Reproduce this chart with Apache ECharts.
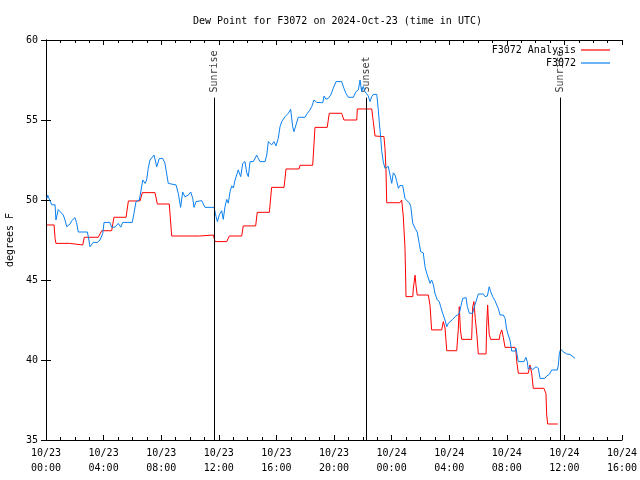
<!DOCTYPE html>
<html>
<head>
<meta charset="utf-8">
<script src="https://cdn.jsdelivr.net/npm/echarts@6/dist/echarts.min.js"></script>
<style>html,body{margin:0;padding:0;background:#fff}#c{width:640px;height:480px}</style>
</head>
<body>
<div id="c"></div>
<script>
// hours since 2024-10-23 00:00 UTC
const blueHours = [0.07,0.12,0.21,0.40,0.63,0.69,0.85,1.20,1.32,1.44,1.67,1.78,2.01,2.12,2.24,2.87,2.94,3.06,3.28,3.56,3.75,3.94,4.03,4.44,4.56,4.79,5.02,5.19,5.33,5.99,6.11,6.25,6.48,6.58,6.72,6.88,6.99,7.10,7.22,7.50,7.69,7.87,8.10,8.26,8.49,8.61,9.03,9.19,9.35,9.49,9.65,9.88,10.05,10.19,10.28,10.42,10.53,10.81,11.04,11.67,11.81,11.90,12.03,12.20,12.31,12.43,12.55,12.66,12.78,12.90,13.01,13.13,13.24,13.35,13.52,13.66,13.82,13.94,14.05,14.17,14.40,14.63,14.74,14.86,15.21,15.33,15.44,15.56,15.67,15.83,15.97,16.13,16.25,16.37,16.60,16.83,16.99,17.13,17.22,17.36,17.52,17.99,18.15,18.33,18.45,18.61,18.80,19.22,19.31,19.44,19.60,19.77,19.95,20.14,20.53,20.69,20.83,20.99,21.34,21.53,21.69,21.81,21.92,22.03,22.15,22.27,22.38,22.50,22.62,22.73,22.97,23.08,23.15,23.24,23.31,23.42,23.54,23.66,23.77,23.89,24.01,24.12,24.24,24.35,24.47,24.58,24.77,24.93,25.05,25.23,25.33,25.47,25.63,25.78,25.92,26.02,26.20,26.32,26.44,26.55,26.67,26.78,26.90,27.01,27.17,27.31,27.41,27.55,27.64,27.71,27.83,27.94,28.06,28.24,28.40,28.56,28.70,28.80,28.94,29.17,29.26,29.40,29.63,29.72,29.86,30.02,30.37,30.49,30.65,30.78,30.88,31.02,31.18,31.30,31.41,31.53,31.76,31.88,31.99,32.10,32.22,32.34,32.57,32.64,32.73,32.80,33.19,33.33,33.42,33.49,33.61,33.73,33.80,34.03,34.19,34.31,34.65,34.77,34.95,35.12,35.51,35.58,35.65,35.74,35.92,36.16,36.39,36.74];
const blueValues = [50.1,50.3,50.1,49.7,49.7,48.75,49.4,49.06,48.75,48.33,48.5,48.7,48.9,48.6,48.0,48.0,47.7,47.08,47.35,47.35,47.5,47.9,48.6,48.6,48.3,48.3,48.54,48.3,48.6,48.6,49.17,49.9,50.0,50.5,51.25,51.04,51.25,51.98,52.5,52.81,52.08,52.6,52.6,52.3,51.04,50.94,50.94,50.4,49.54,50.5,50.2,50.3,50.5,50.1,49.54,49.9,49.96,49.96,49.54,49.54,48.96,48.65,49.06,49.33,48.79,49.58,50.04,49.8,50.52,50.88,50.75,51.25,51.56,51.88,51.46,52.29,52.4,51.7,51.46,52.4,52.4,52.81,52.6,52.4,52.4,52.81,53.65,53.75,53.44,53.65,53.38,53.85,54.58,54.9,55.21,55.42,55.67,54.58,54.27,54.69,55.17,55.17,55.42,55.62,55.83,56.25,56.1,56.08,56.5,56.3,56.35,56.56,56.98,57.4,57.4,56.98,56.67,56.42,56.42,56.77,56.88,57.5,56.77,57.1,56.77,56.88,56.5,56.15,56.46,56.6,56.6,55.6,54.8,53.96,53.1,52.4,51.98,51.9,52.1,52.2,51.04,51.7,51.56,51.2,50.73,50.9,50.9,50.1,49.96,49.83,49.6,48.54,48.23,48.0,47.29,46.77,46.7,45.83,45.42,45.31,44.79,45.0,44.7,44.17,43.75,43.65,43.33,42.9,43.0,42.5,42.08,42.3,42.33,42.54,42.7,42.81,42.9,43.33,43.85,43.9,43.33,42.92,42.92,43.25,43.65,44.125,44.125,43.96,44.0,44.58,44.27,43.96,43.71,43.44,43.23,42.81,42.81,42.6,41.92,41.56,41.25,40.56,40.56,40.73,40.25,39.9,39.9,40.17,39.9,39.42,39.58,39.69,39.4,39.58,39.48,38.85,38.85,39.0,39.1,39.375,39.375,39.69,40.42,40.67,40.52,40.375,40.35,40.1];

const redHours = [0.07,0.56,0.63,0.69,1.62,1.72,2.55,2.66,3.63,3.87,4.56,4.72,5.56,5.72,6.53,6.69,7.57,7.73,8.56,8.73,10.65,10.69,11.62,11.74,12.55,12.73,13.59,13.70,14.56,14.67,15.51,15.67,16.53,16.67,17.57,17.64,18.52,18.68,19.53,19.67,20.53,20.69,21.58,21.62,22.62,22.73,22.85,22.92,23.47,23.54,23.61,23.66,24.58,24.70,24.81,24.93,24.98,25.00,25.47,25.51,25.63,25.69,25.78,26.55,26.67,26.78,27.48,27.59,27.64,27.71,27.83,28.52,28.63,28.70,28.78,28.87,29.56,29.63,29.72,29.81,29.93,30.02,30.56,30.60,30.67,30.72,30.78,30.88,31.48,31.53,31.65,31.76,31.88,32.57,32.64,32.69,32.80,33.49,33.61,33.73,33.84,34.58,34.72,34.77,34.84,35.54];
const redValues = [48.44,48.44,47.6,47.29,47.29,47.19,47.19,47.67,47.67,48.08,48.08,48.92,48.92,49.94,49.94,50.46,50.46,49.75,49.75,47.75,47.75,47.81,47.81,47.4,47.4,47.75,47.75,48.38,48.38,49.23,49.23,50.79,50.79,51.94,51.94,52.17,52.17,54.54,54.54,55.42,55.42,55.0,55.0,55.69,55.69,54.9,54.0,53.96,53.96,53.23,51.88,49.83,49.83,50.0,49.0,47.0,45.0,43.96,43.96,44.5,45.3,44.7,44.06,44.06,43.4,41.88,41.88,42.4,42.5,42.0,40.58,40.58,41.88,43.33,41.88,41.29,41.29,43.33,43.65,42.6,41.5,40.38,40.38,42.08,43.44,42.5,41.6,41.29,41.29,41.6,41.88,41.4,40.79,40.79,40.5,39.9,39.17,39.17,39.69,39.17,38.23,38.23,37.9,36.56,36.0,36.0];

const eventHours = [11.69, 22.22, 35.72];
const eventNames = ['Sunrise', 'Sunset', 'Sunrise'];
const eventTop = 56.4;

const xTickLabels = ['10/23\n00:00','10/23\n04:00','10/23\n08:00','10/23\n12:00','10/23\n16:00','10/23\n20:00','10/24\n00:00','10/24\n04:00','10/24\n08:00','10/24\n12:00','10/24\n16:00'];

const FONT = 'DejaVu Sans Mono';
const RED = '#ff0000';
const BLUE = '#0a80f0';
const chart = echarts.init(document.getElementById('c'));
const zip = (a, b) => a.map((v, i) => [v, b[i]]);
const lineIcon = 'path://M0 0H29V1.2H0Z';

chart.setOption({
  animation: false,
  backgroundColor: '#fff',
  title: {
    text: 'Dew Point for F3072 on 2024-Oct-23 (time in UTC)',
    left: 188, top: 11,
    textStyle: { fontFamily: FONT, fontSize: 10, fontWeight: 'normal', color: '#000' }
  },
  legend: {
    data: [
      { name: 'F3072 Analysis', icon: lineIcon, itemStyle: { color: RED } },
      { name: 'F3072', icon: lineIcon, itemStyle: { color: BLUE } }
    ],
    orient: 'vertical', right: 25, top: 40, align: 'right',
    itemWidth: 29, itemHeight: 12, itemGap: 3, symbolKeepAspect: true,
    textStyle: { fontFamily: FONT, fontSize: 10, color: '#000' }
  },
  grid: { left: 46, right: 18, top: 40, bottom: 40, containLabel: false, outerBoundsMode: 'none' },
  xAxis: [{
    type: 'value', min: 0, max: 40, interval: 4,
    axisLine: { lineStyle: { color: '#000', width: 1 } },
    axisTick: { inside: true, length: 5, lineStyle: { color: '#000' } },
    minorTick: { show: true, splitNumber: 4, length: 3, lineStyle: { color: '#000' } },
    splitLine: { show: false },
    axisLabel: {
      margin: 6, color: '#000', fontFamily: FONT, fontSize: 10, lineHeight: 15,
      formatter: (v) => xTickLabels[Math.round(v / 4)]
    }
  }, {
    type: 'value', min: 0, max: 40, interval: 4, position: 'top',
    axisLine: { show: true, lineStyle: { color: '#000', width: 1 } },
    axisTick: { inside: true, length: 5, lineStyle: { color: '#000' } },
    minorTick: { show: true, splitNumber: 4, length: 3, lineStyle: { color: '#000' } },
    axisLabel: { show: false }, splitLine: { show: false }
  }],
  yAxis: [{
    type: 'value', min: 35, max: 60, interval: 5,
    name: 'degrees F', nameLocation: 'middle', nameGap: 30,
    nameTextStyle: { fontFamily: FONT, fontSize: 10, color: '#000' },
    axisLine: { show: true, lineStyle: { color: '#000', width: 1 } },
    axisTick: { show: true, inside: true, length: 5, lineStyle: { color: '#000' } },
    axisLabel: { margin: 8, color: '#000', fontFamily: FONT, fontSize: 10 },
    splitLine: { show: false }
  }, {
    type: 'value', min: 35, max: 60, interval: 5, position: 'right',
    axisLine: { show: true, lineStyle: { color: '#000', width: 1 } },
    axisTick: { show: true, inside: true, length: 5, lineStyle: { color: '#000' } },
    axisLabel: { show: false }, splitLine: { show: false }
  }],
  series: [{
    name: 'F3072 Analysis', type: 'line', data: zip(redHours, redValues),
    symbol: 'none', lineStyle: { color: RED, width: 1 }, itemStyle: { color: RED }
  }, {
    name: 'F3072', type: 'line', data: zip(blueHours, blueValues),
    symbol: 'none', lineStyle: { color: BLUE, width: 1 }, itemStyle: { color: BLUE }
  }, {
    name: 'events', type: 'scatter', symbolSize: 0,
    data: eventHours.map((h, i) => ({ value: [h, eventTop], name: eventNames[i] })),
    label: {
      show: true, position: 'top', distance: 5, rotate: 90,
      align: 'left', verticalAlign: 'middle',
      formatter: (p) => p.name, fontFamily: FONT, fontSize: 10, color: '#000'
    },
    markLine: {
      silent: true, symbol: 'none', animation: false,
      lineStyle: { color: '#000', width: 1, type: 'solid' },
      label: { show: false },
      data: eventHours.map((h) => [{ coord: [h, 35] }, { coord: [h, eventTop] }])
    }
  }]
});
</script>
</body>
</html>
